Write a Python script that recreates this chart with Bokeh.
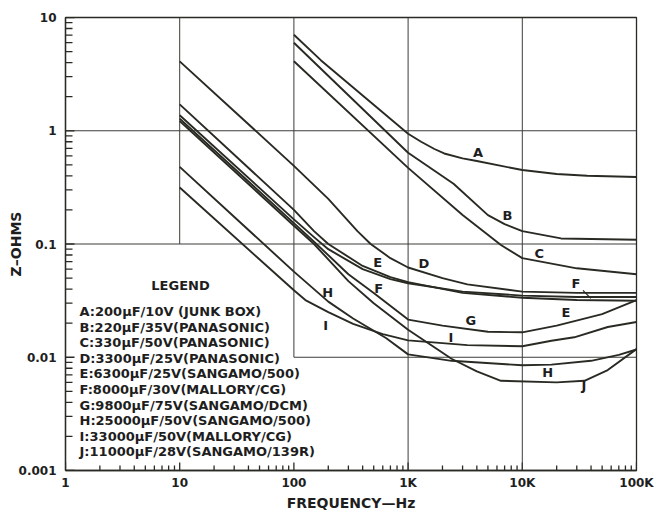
from bokeh.plotting import figure
from bokeh.models import FixedTicker, Label, ColumnDataSource
from bokeh.core.properties import value
from bokeh.embed import file_html
from bokeh.resources import INLINE

# ---------------- data ----------------
A_f = [100, 172, 1000, 1300, 1700, 2070, 3000, 4000, 10000, 20000, 37000, 100000]
A_z = [7.05, 4.2, 0.94, 0.80, 0.69, 0.63, 0.57, 0.54, 0.45, 0.415, 0.40, 0.39]

B_f = [100, 1000, 2500, 5000, 7000, 10000, 21800, 100000]
B_z = [5.99, 0.64, 0.34, 0.18, 0.15, 0.13, 0.112, 0.109]

C_f = [100, 1000, 3000, 6500, 10000, 30000, 100000]
C_z = [4.11, 0.47, 0.18, 0.098, 0.075, 0.061, 0.054]

D_f = [10, 100, 200, 360, 470, 700, 1000, 2000, 3300, 10000, 30000, 100000]
D_z = [4.1, 0.49, 0.25, 0.13, 0.1, 0.075, 0.062, 0.05, 0.044, 0.038, 0.037, 0.037]

E_f = [10, 100, 150, 200, 400, 700, 1000, 3000, 10000, 30000, 100000]
E_z = [1.71, 0.2, 0.13, 0.1, 0.064, 0.051, 0.046, 0.037, 0.0335, 0.032, 0.0315]

F_f = [10, 100, 150, 200, 400, 700, 1000, 3000, 10000, 30000, 100000]
F_z = [1.37, 0.165, 0.115, 0.09, 0.06, 0.049, 0.045, 0.038, 0.035, 0.034, 0.034]

G_f = [10, 100, 150, 300, 500, 1000, 2000, 5000, 10000, 20000, 50000, 100000]
G_z = [1.28, 0.153, 0.105, 0.054, 0.037, 0.0215, 0.019, 0.0168, 0.0166, 0.019, 0.024, 0.032]

H_f = [10, 100, 200, 330, 640, 1000, 2400, 10000, 18000, 40000, 70000, 100000]
H_z = [0.48, 0.057, 0.031, 0.022, 0.0148, 0.0106, 0.0093, 0.0085, 0.0086, 0.0093, 0.0105, 0.0117]

I_f = [10, 100, 126, 200, 330, 600, 1000, 3300, 10000, 18000, 28500, 56000, 100000]
I_z = [0.315, 0.039, 0.032, 0.025, 0.0197, 0.016, 0.0141, 0.0128, 0.0125, 0.014, 0.015, 0.0185, 0.0205]

J_f = [10, 100, 150, 300, 500, 1000, 2400, 4000, 6500, 20000, 35000, 56000, 100000]
J_z = [1.22, 0.145, 0.1, 0.047, 0.030, 0.0175, 0.0097, 0.0075, 0.0062, 0.006, 0.0062, 0.0077, 0.0118]

curve_label_text = ["A", "B", "C", "D", "E", "F", "H", "I", "G", "I", "F", "E", "H", "J"]
curve_label_f = [4100, 7430, 14060, 1373, 542, 553, 198, 190, 3550, 2370, 29500, 24100, 16700, 34700]
curve_label_z = [0.637, 0.179, 0.082, 0.0676, 0.0689, 0.0406, 0.0374, 0.0192, 0.0212, 0.015, 0.045, 0.0249, 0.00737, 0.00565]

# leader from the right-hand "F" label to its curve
leader_f = [34000, 39800]
leader_z = [0.039, 0.0331]

legend_title = "LEGEND"
legend_lines = [
    "A:200\u00b5F/10V (JUNK BOX)",
    "B:220\u00b5F/35V(PANASONIC)",
    "C:330\u00b5F/50V(PANASONIC)",
    "D:3300\u00b5F/25V(PANASONIC)",
    "E:6300\u00b5F/25V(SANGAMO/500)",
    "F:8000\u00b5F/30V(MALLORY/CG)",
    "G:9800\u00b5F/75V(SANGAMO/DCM)",
    "H:25000\u00b5F/50V(SANGAMO/500)",
    "I:33000\u00b5F/50V(MALLORY/CG)",
    "J:11000\u00b5F/28V(SANGAMO/139R)",
]

x_ticks = [1, 10, 100, 1000, 10000, 100000]
x_tick_labels = ["1", "10", "100", "1K", "10K", "100K"]
y_ticks = [0.001, 0.01, 0.1, 1, 10]
y_tick_labels = ["0.001", "0.01", "0.1", "1", "10"]

# partial grid of the original drawing
grid_v_x = [10, 100, 1000, 10000]
grid_v_lo = [0.1, 0.01, 0.001, 0.001]
grid_v_hi = [10, 10, 10, 10]
grid_h_y = [1, 0.1, 0.01]
grid_h_lo = [1, 1, 100]
grid_h_hi = [100000, 100000, 100000]

x_label = "FREQUENCY\u2014Hz"
y_label = "Z\u2013OHMS"

# ---------------- figure ----------------
INK = "#2a2a24"
FONT = "DejaVu Sans"
W, H_ = 654, 513
BL, BR, BT, BB = 65, 18, 17, 43

p = figure(width=W, height=H_, x_axis_type="log", y_axis_type="log",
           x_range=(1, 1e5), y_range=(1e-3, 10),
           output_backend="svg", toolbar_location=None,
           min_border_left=BL, min_border_right=BR, min_border_top=BT, min_border_bottom=BB)
p.xgrid.visible = False
p.ygrid.visible = False
p.outline_line_color = INK
p.outline_line_width = 1.3
p.background_fill_color = "white"
p.border_fill_color = "white"

x_minor = [k * 10 ** d for d in range(0, 5) for k in range(2, 10)]
y_minor = [k * 10.0 ** d for d in range(-3, 1) for k in range(2, 10)]
p.xaxis.ticker = FixedTicker(ticks=x_ticks, minor_ticks=x_minor)
p.yaxis.ticker = FixedTicker(ticks=y_ticks, minor_ticks=y_minor)
p.xaxis.major_label_overrides = {t: l for t, l in zip(x_ticks, x_tick_labels)}
p.yaxis.major_label_overrides = {t: l for t, l in zip(y_ticks, y_tick_labels)}
for ax in (p.xaxis, p.yaxis):
    ax.major_tick_in = 0
    ax.major_tick_out = 0
    ax.minor_tick_in = 0
    ax.minor_tick_out = 0
    ax.axis_line_color = INK
    ax.axis_line_width = 1.3
    ax.major_label_text_font = FONT
    ax.major_label_text_font_style = "bold"
    ax.major_label_text_font_size = "12px"
    ax.major_label_text_color = "#1e1e1e"
    ax.axis_label_text_font = FONT
    ax.axis_label_text_font_style = "bold"
    ax.axis_label_text_font_size = "14px"
    ax.axis_label_text_color = "#1e1e1e"
p.xaxis.major_label_standoff = 5
p.yaxis.major_label_standoff = 9
p.xaxis.axis_label = x_label
p.yaxis.axis_label = y_label
p.xaxis.axis_label_standoff = 2
p.yaxis.axis_label_standoff = -8

# inward tick marks (length given in pixels, converted to decades of the frame)
px_per_dec_x = (W - BL - BR) / 5.0
px_per_dec_y = (H_ - BT - BB) / 4.0
lx_minor = 10 ** (7 / px_per_dec_x)
lx_major = 10 ** (9 / px_per_dec_x)
ly_minor = 10 ** (5 / px_per_dec_y)
ly_major = 10 ** (8 / px_per_dec_y)
p.segment(x0=[1.0] * len(y_minor), y0=y_minor, x1=[lx_minor] * len(y_minor), y1=y_minor,
          line_color=INK, line_width=1.3)
p.segment(x0=[1.0] * len(y_ticks), y0=y_ticks, x1=[lx_major] * len(y_ticks), y1=y_ticks,
          line_color=INK, line_width=1.3)
p.segment(x0=x_minor, y0=[0.001] * len(x_minor), x1=x_minor, y1=[0.001 * ly_minor] * len(x_minor),
          line_color=INK, line_width=1.3)
p.segment(x0=x_ticks, y0=[0.001] * len(x_ticks), x1=x_ticks, y1=[0.001 * ly_major] * len(x_ticks),
          line_color=INK, line_width=1.3)

# grid segments
p.segment(x0=grid_v_x, y0=grid_v_lo, x1=grid_v_x, y1=grid_v_hi, line_color="#3c3c38", line_width=1)
p.segment(x0=grid_h_lo, y0=grid_h_y, x1=grid_h_hi, y1=grid_h_y, line_color="#3c3c38", line_width=1)

# curves
for fs, zs in [(A_f, A_z), (B_f, B_z), (C_f, C_z), (D_f, D_z), (E_f, E_z),
               (F_f, F_z), (G_f, G_z), (H_f, H_z), (I_f, I_z), (J_f, J_z)]:
    p.line(fs, zs, line_color=INK, line_width=1.9, line_join="round")

p.line(leader_f, leader_z, line_color=INK, line_width=1.2)

src = ColumnDataSource(dict(x=curve_label_f, y=curve_label_z, t=curve_label_text))
p.text(x="x", y="y", text="t", source=src, text_font=value(FONT), text_font_style="bold",
       text_font_size="13px", text_align="center", text_baseline="middle", text_color="#1e1e1e")

# legend block (screen units relative to the plot frame)
p.add_layout(Label(x=115, y=185, x_units="screen", y_units="screen", text=legend_title,
                   text_font=FONT, text_font_style="bold", text_font_size="13px",
                   text_align="center", text_baseline="middle", text_color="#1e1e1e"))
for i, line in enumerate(legend_lines):
    p.add_layout(Label(x=14, y=159 - i * 15.6, x_units="screen", y_units="screen", text=line,
                       text_font=FONT, text_font_style="bold", text_font_size="13px",
                       text_align="left", text_baseline="middle", text_color="#1e1e1e"))

open("out.html", "w").write(file_html(p, INLINE))
